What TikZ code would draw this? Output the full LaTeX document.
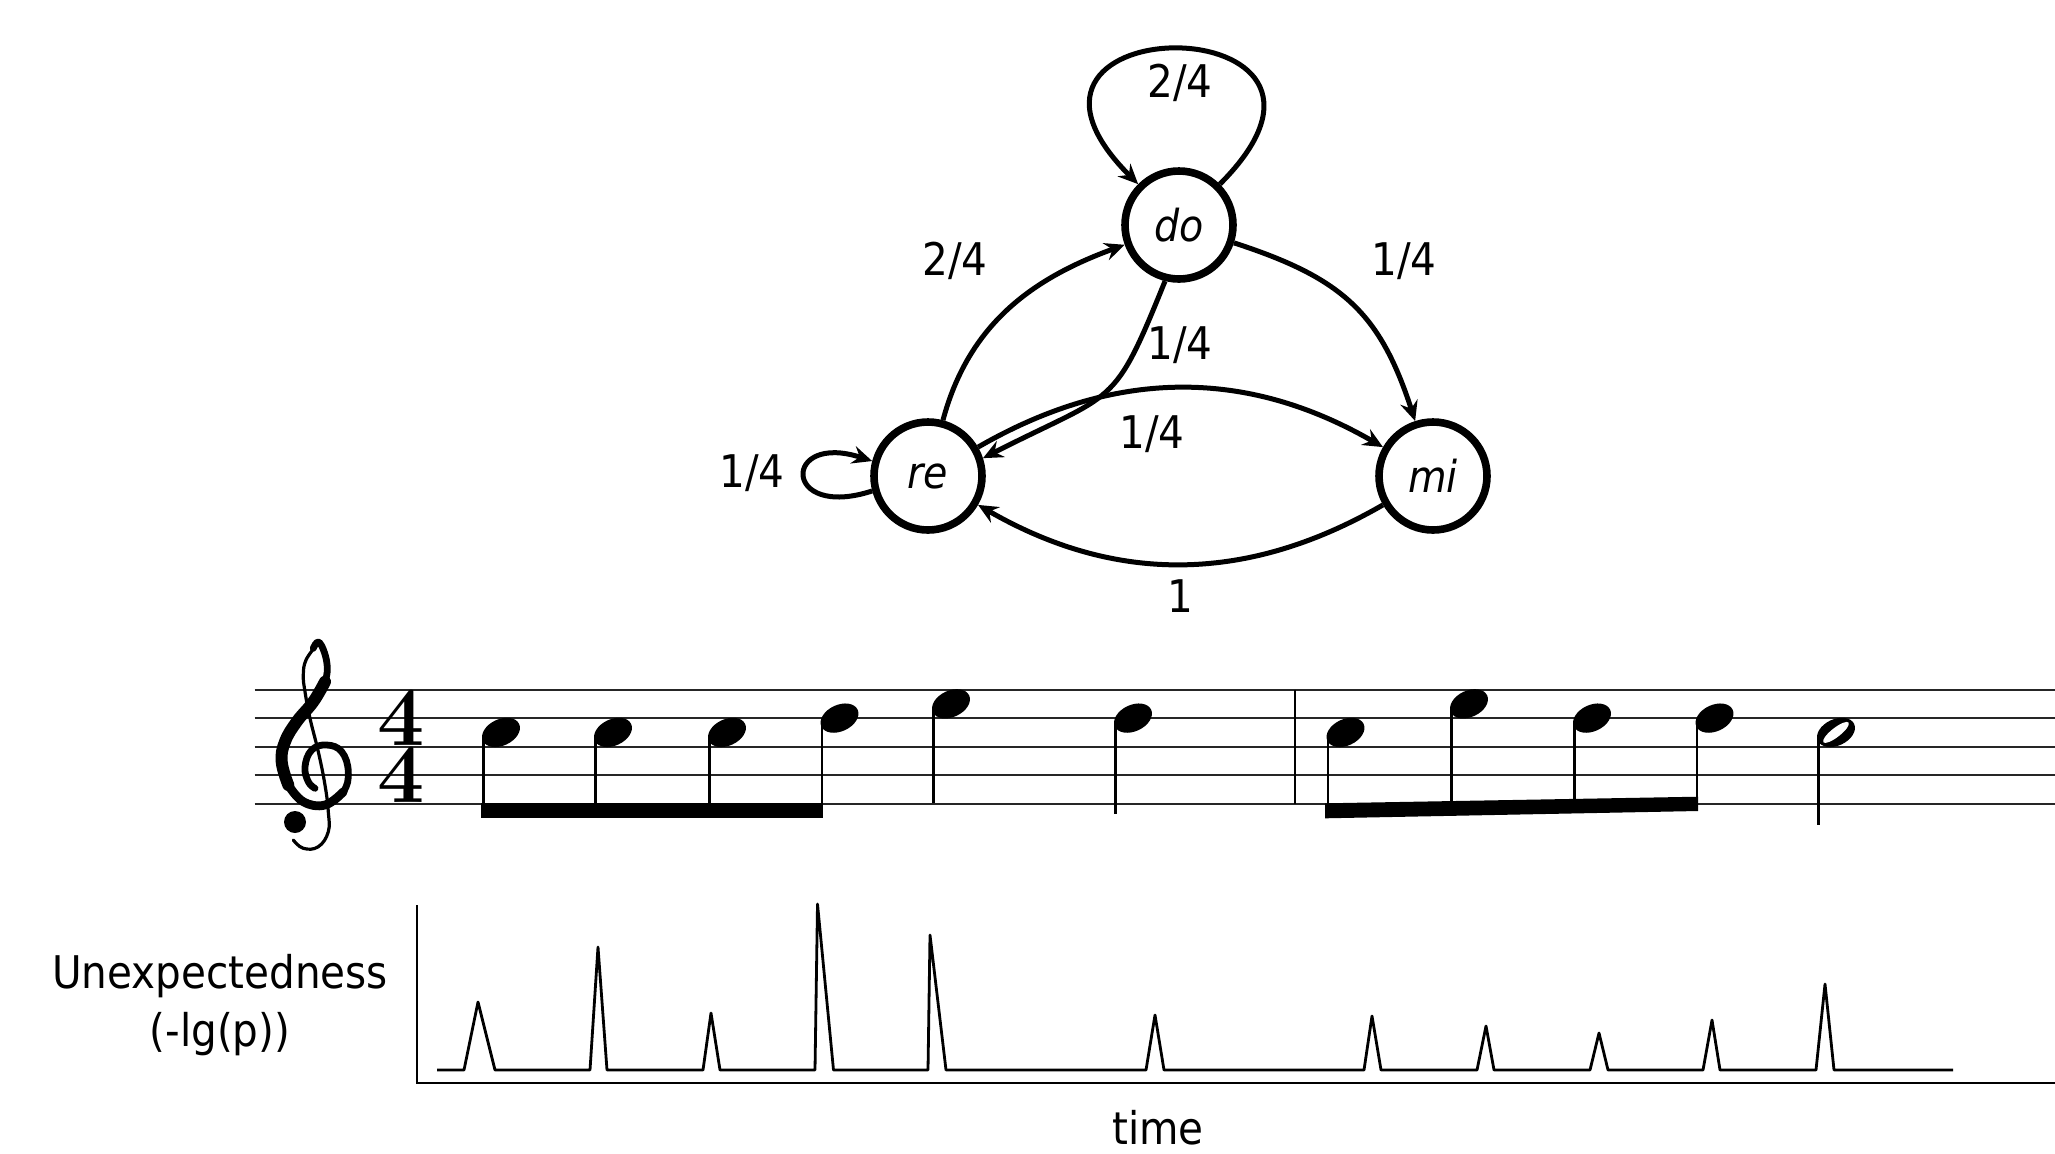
\documentclass[tikz,border=0pt]{standalone}
\usepackage{fontspec}
\newfontfamily\dvfont{DejaVu Sans}[FakeStretch=0.9]
\usetikzlibrary{arrows.meta}
\newcommand\myqnote[3]{%
  \fill[rotate around={25:(#1,-#2)}] (#1,-#2) ellipse [x radius=10pt, y radius=6.6pt];
  \draw[stem] (#1-17.5,-#2-3) -- (#1-17.5,-#3);}
\begin{document}
\begin{tikzpicture}[x=0.5pt,y=0.5pt,
  state/.style={circle, draw, line width=3.8pt, minimum size=54pt, inner sep=0pt,
    font=\dvfont\itshape\fontsize{22}{22}\selectfont},
  edge/.style={line width=2.5pt, -{Stealth[length=10pt,width=9pt,inset=3.5pt]}},
  lbl/.style={font=\dvfont\fontsize{22.5}{22.5}\selectfont, inner sep=0pt, anchor=base},
  staffline/.style={line width=1pt, black!85},
  stem/.style={line width=1.1pt},
  plotline/.style={line width=1.4pt, line join=round},
  tsig/.style={font=\fontsize{42}{28.6}\selectfont\bfseries, inner sep=0pt, align=center},
]
\useasboundingbox (0,0) rectangle (2055,-1153);

% ---------- Markov graph ----------
\node[state] (do) at (1179,-225) {do};
\node[state] (re) at (928,-476) {re};
\node[state] (mi) at (1433,-476) {mi};

\draw[edge] (do.45) .. controls +(45:255) and +(135:255) .. (do.135);
\draw[edge] (do) to[out=-18,in=108,looseness=1.15] (mi);
\draw[edge] (re) to[out=75,in=200] (do);
\draw[edge] (do.-104) .. controls +(-112:140) and +(27:150) .. (re.18);
\draw[edge] (re) to[out=30,in=150] (mi);
\draw[edge] (mi) to[out=210,in=-30] (re);
\draw[edge] (re.195) .. controls +(198:95) and +(162:95) .. (re.165);

\node[lbl] (l1) at (1180,-97) {2/4};
\node[lbl] (l2) at (1404,-275) {1/4};
\node[lbl] (l3) at (955,-275) {2/4};
\node[lbl] (l4) at (1180,-359) {1/4};
\node[lbl] (l5) at (1152,-448) {1/4};
\node[lbl] (l6) at (752,-487) {1/4};
\node[lbl] (l7) at (1180,-612) {1};

% ---------- Staff ----------
\foreach \y in {689.5,718.1,746.7,775.3,803.9}
  \draw[staffline] (254.5,-\y) -- (2055,-\y);

% treble clef
\begin{scope}[line cap=round, line join=round]
\draw[line width=3.4pt] plot[smooth, tension=0.7] coordinates {(313.3,-648.3)(319.3,-642.3)(326.7,-661.7)(325,-681.7)(313.3,-701.7)(296.7,-721.7)(285,-741.7)(281.7,-761.7)(288.3,-785)(303.3,-801.7)(325,-805)(343.3,-791.7)(348.3,-771.7)(341.7,-751.7)(326.7,-745)(311.7,-750)(305,-766.7)(308.3,-781.7)(315,-788.3)};
\draw[line width=6pt] plot[smooth, tension=0.7] coordinates {(325,-681.7)(313.3,-701.7)(296.7,-721.7)(285,-741.7)(281.7,-761.7)(288.3,-785)};
\draw[line width=4.4pt] plot[smooth, tension=0.7] coordinates {(288.3,-785)(303.3,-801.7)(325,-805)(343.3,-791.7)};
\draw[line width=1.6pt] plot[smooth, tension=0.7] coordinates {(316,-646)(306,-660)(303.3,-675)(305,-691.7)(310,-718.3)(318.3,-751.7)(325,-785)(328.3,-811.7)(328.3,-831.7)(318.3,-846.7)(303.3,-848.3)(293.3,-840)};
\fill (295,-822) circle (5.5pt);
\end{scope}

% time signature
\node[tsig] (ts) at (401,-746.3) {4\\4};

% measure 1
\myqnote{501}{732.4}{810}
\myqnote{613}{732.4}{810}
\myqnote{727}{732.4}{810}
\myqnote{839.5}{718.1}{810}
\fill (481,-803.3) rectangle (823,-818.3);
\myqnote{951}{703.8}{803.3}
\myqnote{1133}{718.1}{814.3}
\draw[line width=1pt] (1295,-689.5) -- (1295,-803.9);
% measure 2
\myqnote{1345.5}{732.4}{810}
\myqnote{1469}{703.8}{805}
\myqnote{1592}{718.1}{805}
\myqnote{1714.5}{718.1}{802}
\fill (1325,-803.3) -- (1698,-796.7) -- (1698,-811) -- (1325,-818.3) -- cycle;
\fill[rotate around={25:(1836,-732.4)}] (1836,-732.4) ellipse [x radius=10pt, y radius=6.6pt];
\fill[white, rotate around={38:(1836,-732.4)}] (1836,-732.4) ellipse [x radius=8pt, y radius=2.3pt];
\draw[stem] (1818.5,-735) -- (1818.5,-825);

% ---------- Unexpectedness plot ----------
\draw[line width=1.3pt] (417,-905) -- (417,-1083) -- (2055,-1083);
\draw[plotline] (437,-1070) -- (464,-1070) -- (478,-1002) -- (495,-1070) -- (590,-1070) -- (598,-947) -- (607,-1070) -- (703,-1070) -- (711,-1013) -- (720,-1070) -- (815,-1070) -- (817.5,-904) -- (833.5,-1070) -- (928,-1070) -- (930,-935) -- (946,-1070) -- (1146,-1070) -- (1155,-1015) -- (1164,-1070) -- (1364,-1070) -- (1372,-1016) -- (1381,-1070) -- (1477,-1070) -- (1486,-1026) -- (1494,-1070) -- (1590,-1070) -- (1599,-1033) -- (1608,-1070) -- (1703,-1070) -- (1712,-1020) -- (1720,-1070) -- (1816,-1070) -- (1825,-984) -- (1834,-1070) -- (1953,-1070);

\node[lbl] (yl1) at (220,-988) {Unexpectedness};
\node[lbl] (yl2) at (220,-1046) {(-lg(p))};
\node[lbl] (xl) at (1158,-1144) {time};
\end{tikzpicture}
\end{document}
